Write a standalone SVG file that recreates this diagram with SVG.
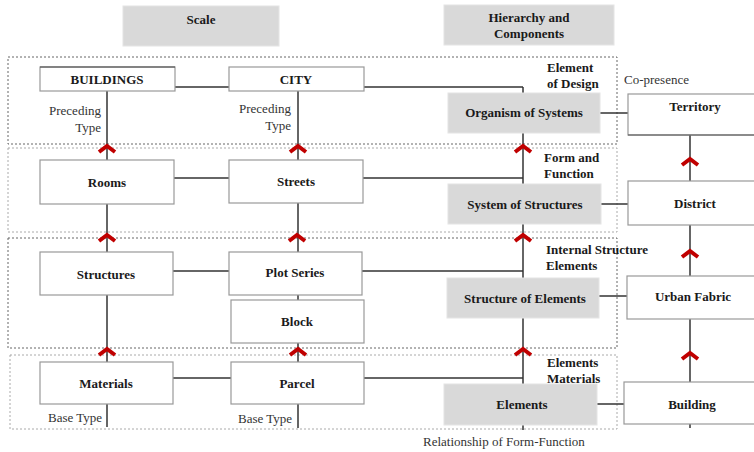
<svg xmlns="http://www.w3.org/2000/svg" width="754" height="452" viewBox="0 0 754 452">
<defs>
<style>
.b{font-family:"Liberation Serif","Times New Roman",serif;font-weight:bold;font-size:13px;fill:#1a1a1a}
.r{font-family:"Liberation Serif","Times New Roman",serif;font-size:13px;fill:#333}
.c{text-anchor:middle}
.e{text-anchor:end}
.wb{fill:#fff;stroke:#999;stroke-width:1.2}
.gb{fill:#d9d9d9;stroke:#e4e4e4;stroke-width:1}
.rg1{fill:none;stroke:#666;stroke-width:1;stroke-dasharray:2,2}
.rg2{fill:none;stroke:#aaa;stroke-width:1;stroke-dasharray:2,2}
.ln{stroke:#333;stroke-width:1.5;fill:none}
.ch{stroke:#c00000;stroke-width:4;fill:none}
</style>
<polyline id="chev" class="ch" points="-8,4 0,-2 8,4"/>
</defs>
<rect width="754" height="452" fill="#fff"/>
<g id="regions">
<rect class="rg1" x="8" y="57" width="609" height="87"/>
<rect class="rg2" x="8" y="148" width="609" height="84"/>
<rect class="rg1" x="8" y="238" width="609" height="110"/>
<rect class="rg2" x="10" y="355" width="607" height="74"/>
</g>
<g id="connectors">
<line class="ln" x1="107" y1="91" x2="107" y2="427"/>
<line class="ln" x1="298" y1="91" x2="298" y2="428"/>
<line class="ln" x1="523" y1="87" x2="523" y2="430"/>
<line class="ln" x1="690" y1="135" x2="690" y2="428"/>
<line class="ln" x1="175" y1="87" x2="229" y2="87"/>
<line class="ln" x1="364" y1="87" x2="523" y2="87"/>
<line class="ln" x1="174" y1="178" x2="229" y2="178"/>
<line class="ln" x1="363" y1="178" x2="523" y2="178"/>
<line class="ln" x1="173" y1="271" x2="229" y2="271"/>
<line class="ln" x1="362" y1="271" x2="523" y2="271"/>
<line class="ln" x1="173" y1="378" x2="231" y2="378"/>
<line class="ln" x1="364" y1="378" x2="523" y2="378"/>
<line class="ln" x1="600" y1="113" x2="628" y2="113"/>
<line class="ln" x1="601" y1="204" x2="628" y2="204"/>
<line class="ln" x1="599" y1="296" x2="627" y2="296"/>
<line class="ln" x1="597" y1="404" x2="624" y2="404"/>
<use href="#chev" x="107" y="148"/>
<use href="#chev" x="298" y="148"/>
<use href="#chev" x="523" y="148"/>
<use href="#chev" x="107" y="237"/>
<use href="#chev" x="297" y="237"/>
<use href="#chev" x="523" y="237"/>
<use href="#chev" x="107" y="351"/>
<use href="#chev" x="298" y="351"/>
<use href="#chev" x="523" y="351"/>
<use href="#chev" x="690" y="161"/>
<use href="#chev" x="690" y="253"/>
<use href="#chev" x="690" y="355"/>
</g>
<g id="scale"><rect class="gb" x="123" y="6" width="156" height="40"/><text class="b c" x="201" y="24">Scale</text></g>
<g id="hierarchy"><rect class="gb" x="444" y="5" width="170" height="40"/><text class="b c" x="529" y="22">Hierarchy and</text><text class="b c" x="529" y="38">Components</text></g>
<g id="buildings"><rect class="wb" x="40" y="67" width="135" height="24"/><line x1="40" y1="67" x2="175" y2="67" stroke="#444" stroke-width="1.2"/><text class="b c" x="107" y="84">BUILDINGS</text></g>
<g id="city"><rect class="wb" x="229" y="67" width="135" height="24"/><text class="b c" x="296" y="84">CITY</text></g>
<g id="preceding1"><text class="r e" x="101" y="115">Preceding</text><text class="r e" x="101" y="132">Type</text></g>
<g id="preceding2"><text class="r e" x="291" y="113">Preceding</text><text class="r e" x="291" y="130">Type</text></g>
<g id="rooms"><rect class="wb" x="40" y="160" width="134" height="44"/><text class="b c" x="107" y="187">Rooms</text></g>
<g id="streets"><rect class="wb" x="229" y="160" width="134" height="43"/><text class="b c" x="296" y="186">Streets</text></g>
<g id="structures"><rect class="wb" x="40" y="252" width="133" height="43"/><text class="b c" x="106" y="279">Structures</text></g>
<g id="plotseries"><rect class="wb" x="229" y="252" width="133" height="43"/><text class="b c" x="295" y="277">Plot Series</text></g>
<g id="block"><rect class="wb" x="231" y="300" width="133" height="43"/><text class="b c" x="297" y="326">Block</text></g>
<g id="materials"><rect class="wb" x="40" y="362" width="133" height="42"/><text class="b c" x="106" y="388">Materials</text></g>
<g id="parcel"><rect class="wb" x="231" y="362" width="133" height="42"/><text class="b c" x="297" y="388">Parcel</text></g>
<g id="basetype1"><text class="r" x="48" y="422">Base Type</text></g>
<g id="basetype2"><text class="r" x="238" y="423">Base Type</text></g>
<g id="organism"><rect class="gb" x="448" y="93" width="152" height="40"/><text class="b c" x="524" y="117">Organism of Systems</text></g>
<g id="system"><rect class="gb" x="448" y="184" width="153" height="40"/><text class="b c" x="525" y="209">System of Structures</text></g>
<g id="structureofelements"><rect class="gb" x="447" y="278" width="152" height="40"/><text class="b c" x="525" y="303">Structure of Elements</text></g>
<g id="elements"><rect class="gb" x="444" y="384" width="153" height="41"/><text class="b c" x="522" y="409">Elements</text></g>
<g id="lbl-design"><text class="b" x="547" y="72">Element</text><text class="b" x="547" y="88">of Design</text></g>
<g id="lbl-form"><text class="b" x="544" y="162">Form and</text><text class="b" x="544" y="178">Function</text></g>
<g id="lbl-internal"><text class="b" x="546" y="254">Internal Structure</text><text class="b" x="546" y="270">Elements</text></g>
<g id="lbl-materials"><text class="b" x="547" y="367">Elements</text><text class="b" x="547" y="383">Materials</text></g>
<g id="copresence"><text class="r" x="624" y="84">Co-presence</text></g>
<g id="territory"><rect class="wb" x="628" y="94" width="130" height="41"/><line x1="628" y1="135" x2="758" y2="135" stroke="#555" stroke-width="1.2"/><text class="b c" x="695" y="111">Territory</text></g>
<g id="district"><rect class="wb" x="628" y="181" width="130" height="44"/><text class="b c" x="695" y="208">District</text></g>
<g id="urbanfabric"><rect class="wb" x="627" y="276" width="131" height="43"/><text class="b c" x="693" y="301">Urban Fabric</text></g>
<g id="building"><rect class="wb" x="624" y="382" width="134" height="42"/><text class="b c" x="692" y="409">Building</text></g>
<g id="relationship"><text class="r" x="423" y="446">Relationship of Form-Function</text></g>
</svg>
